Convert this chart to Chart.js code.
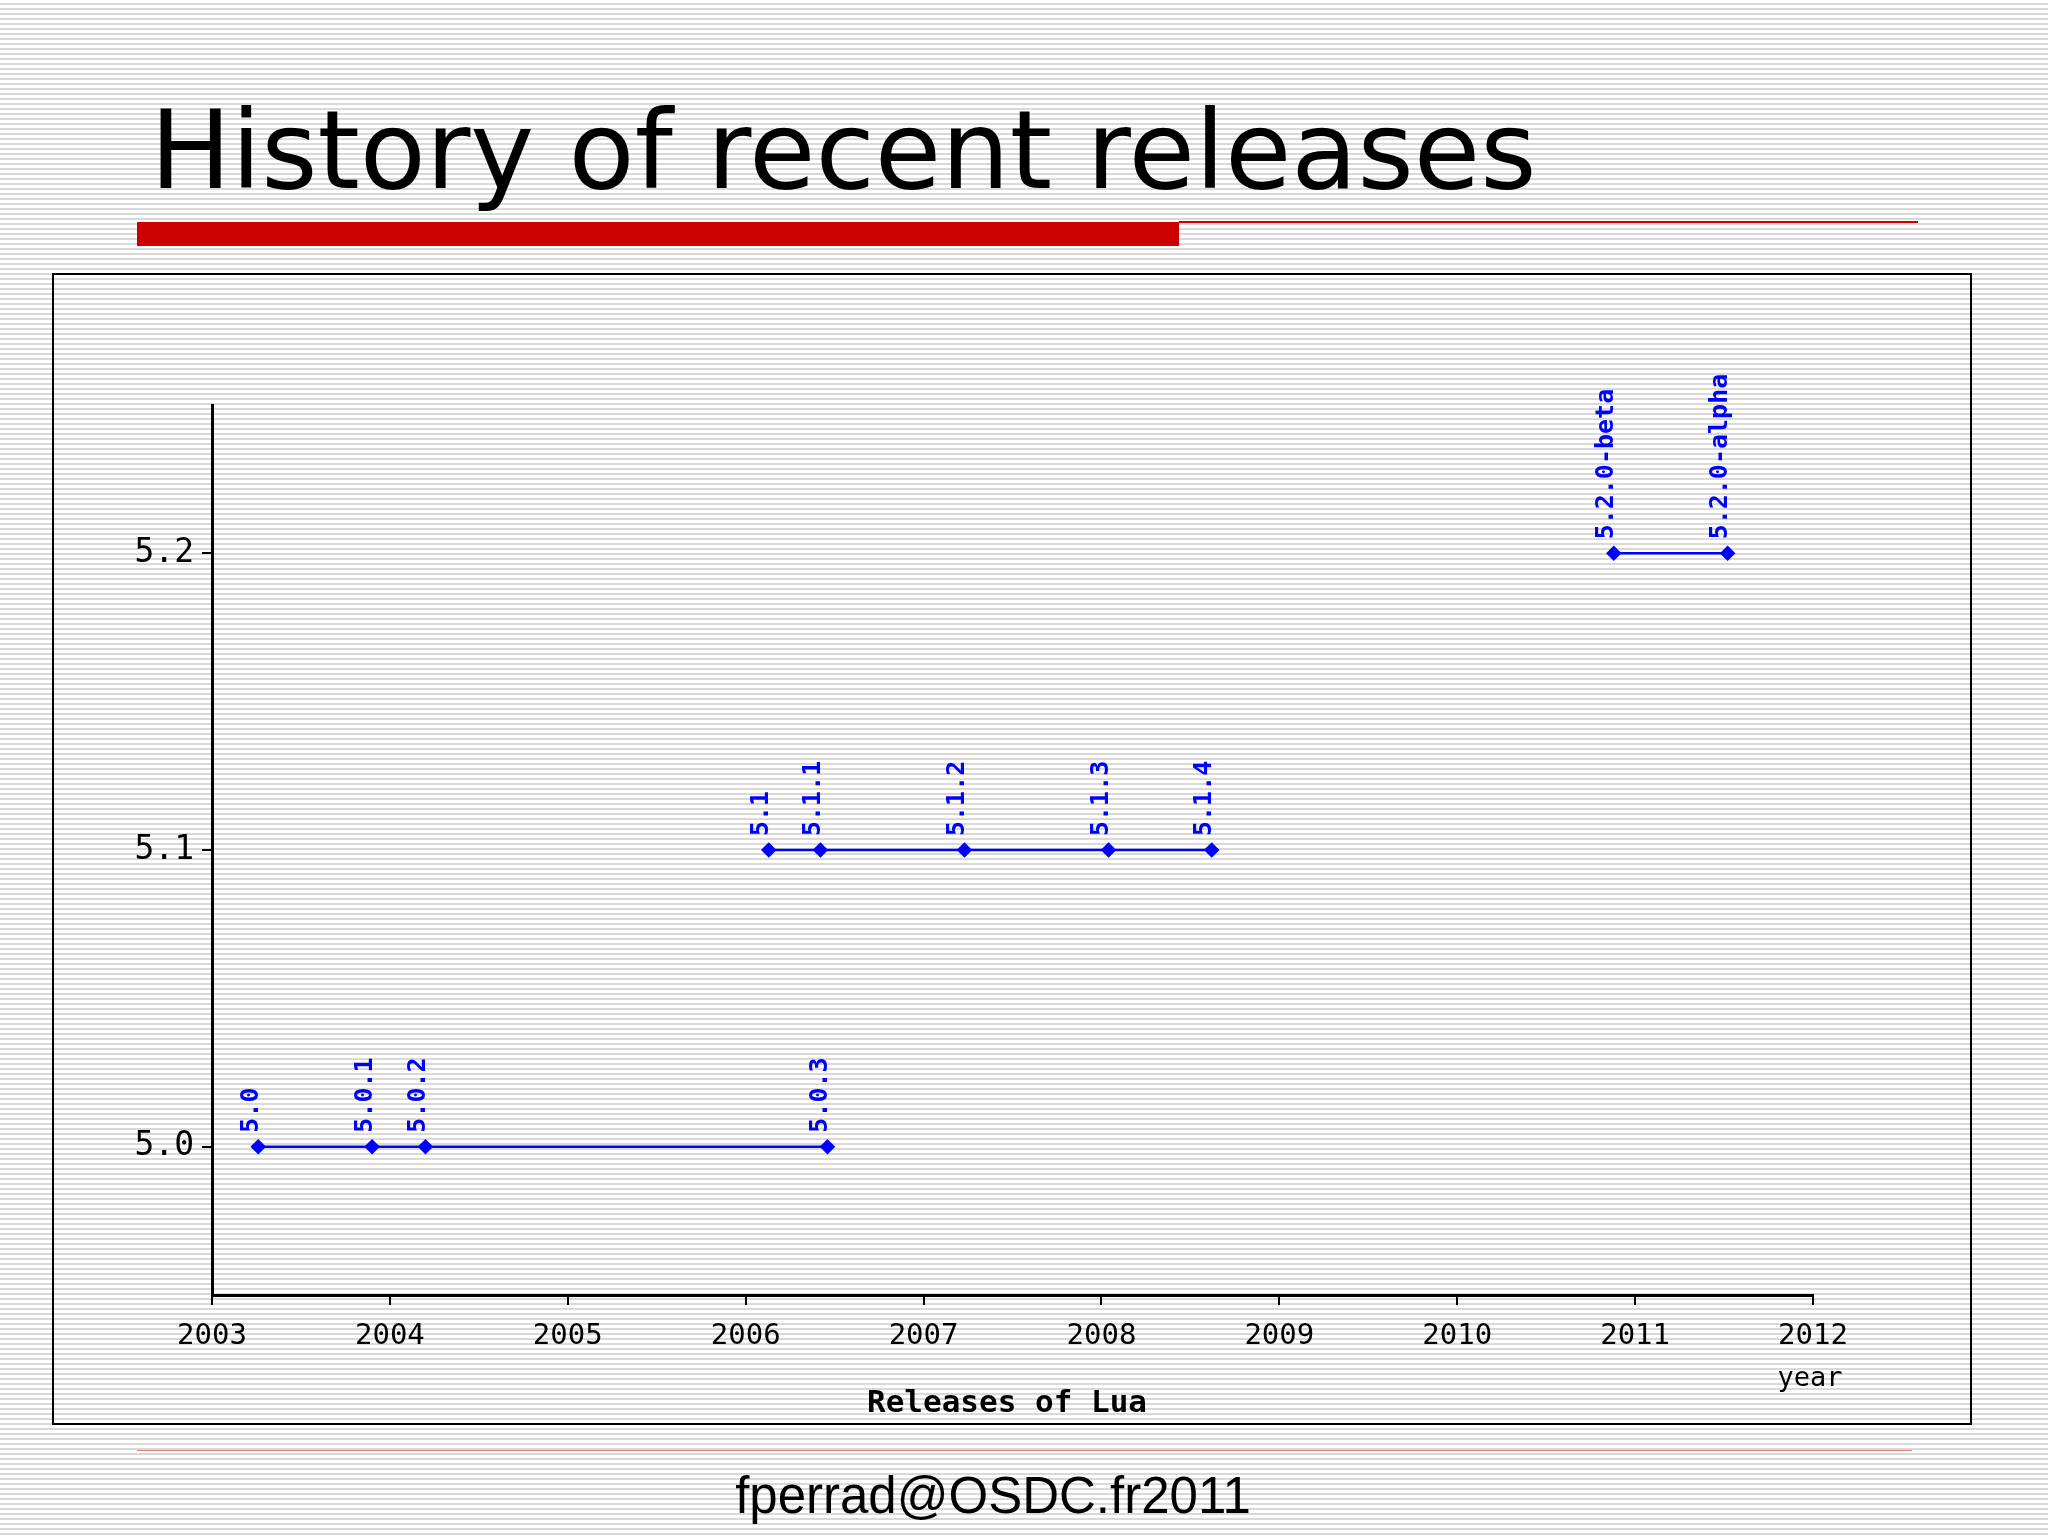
<!DOCTYPE html>
<html>
<head>
<meta charset="utf-8">
<script src="https://cdn.jsdelivr.net/npm/chart.js@4"></script>
<style>
  body {
    margin: 0; width: 2048px; height: 1536px; position: relative; overflow: hidden;
    background: repeating-linear-gradient(to bottom, #ffffff 0px, #ffffff 3px, #d9d9d9 3px, #d9d9d9 5px);
    font-family: "DejaVu Sans", sans-serif;
  }
  #title { position: absolute; left: 150px; top: 88px; font-size: 108px; color: #000; }
  #barThick { position: absolute; left: 137px; top: 222px; width: 1042px; height: 24px; background: #cc0000; }
  #barThin { position: absolute; left: 1179px; top: 221px; width: 739px; height: 2px; background: #cc0000; }
  #frame { position: absolute; left: 52px; top: 273px; width: 1916px; height: 1148px; border: 2px solid #000; }
  #chartBox { position: absolute; left: 52px; top: 274px; width: 1918px; height: 1149px; }
  #footLine { position: absolute; left: 137px; top: 1450px; width: 1775px; height: 1px; background: #e08080; }
  #footer { position: absolute; left: 0; width: 1986px; top: 1466px; text-align: center;
            font-family: "Liberation Sans", sans-serif; font-size: 51px; color: #000; }
</style>
</head>
<body>
<div id="title">History of recent releases</div>
<div id="barThick"></div>
<div id="barThin"></div>
<div id="frame"></div>
<div id="chartBox"><canvas id="chart"></canvas></div>
<div id="footLine"></div>
<div id="footer">fperrad@OSDC.fr2011</div>

<script>
// release dates (fractional years) and labels per branch
const lua50Labels = ["5.0", "5.0.1", "5.0.2", "5.0.3"];
const lua50Years = [2003.26, 2003.90, 2004.20, 2006.46];
const lua51Labels = ["5.1", "5.1.1", "5.1.2", "5.1.3", "5.1.4"];
const lua51Years = [2006.13, 2006.42, 2007.23, 2008.04, 2008.62];
const lua52Labels = ["5.2.0-beta", "5.2.0-alpha"];
const lua52Years = [2010.88, 2011.52];
const yTicks = [5.0, 5.1, 5.2];

const mono = '"DejaVu Sans Mono", monospace';

function series(years, ver, labels) {
    return {
        data: years.map((x, i) => ({ x: x, y: ver, name: labels[i] })),
        borderColor: "#0000ff",
        backgroundColor: "#0000ff",
        borderWidth: 2.5,
        pointStyle: "rectRot",
        pointRadius: 6,
        showLine: true
    };
}

// version names, written upward above each point
const releaseLabels = {
    id: "releaseLabels",
    afterDatasetsDraw(chart) {
        const ctx = chart.ctx;
        ctx.save();
        ctx.fillStyle = "#0000ff";
        ctx.font = "bold 25px " + mono;
        ctx.textAlign = "left";
        ctx.textBaseline = "middle";
        chart.data.datasets.forEach((ds, di) => {
            chart.getDatasetMeta(di).data.forEach((pt, i) => {
                ctx.save();
                ctx.translate(pt.x - 7, pt.y - 14);
                ctx.rotate(-Math.PI / 2);
                ctx.fillText(ds.data[i].name, 0, 0);
                ctx.restore();
            });
        });
        ctx.restore();
    }
};

// axis captions
const captions = {
    id: "captions",
    afterDraw(chart) {
        const ctx = chart.ctx;
        const a = chart.chartArea;
        ctx.save();
        ctx.fillStyle = "#000";
        ctx.textAlign = "center";
        ctx.textBaseline = "middle";
        ctx.font = "27px " + mono;
        ctx.fillText("year", a.right - 3, a.bottom + 84);
        ctx.font = "bold 31px " + mono;
        ctx.fillText("Releases of Lua", 955, a.bottom + 109);
        ctx.restore();
    }
};

new Chart(document.getElementById("chart"), {
    type: "scatter",
    data: {
        datasets: [
            series(lua50Years, 5.0, lua50Labels),
            series(lua51Years, 5.1, lua51Labels),
            series(lua52Years, 5.2, lua52Labels)
        ]
    },
    options: {
        responsive: true,
        maintainAspectRatio: false,
        animation: false,
        layout: { padding: { top: 131, right: 157, left: 0, bottom: 0 } },
        plugins: { legend: { display: false }, tooltip: { enabled: false } },
        scales: {
            x: {
                type: "linear", min: 2003, max: 2012,
                afterBuildTicks: s => { s.ticks = []; for (let y = 2003; y <= 2012; y++) s.ticks.push({ value: y }); },
                afterFit: s => { s.height = 128; },
                grid: { drawOnChartArea: false, color: "#000", tickLength: 10, lineWidth: 2 },
                border: { color: "#000", width: 3 },
                ticks: { color: "#000", font: { family: mono, size: 29 }, padding: 14, maxRotation: 0,
                         callback: v => String(v) }
            },
            y: {
                min: 4.95, max: 5.25,
                afterBuildTicks: s => { s.ticks = yTicks.map(v => ({ value: v })); },
                afterFit: s => { s.width = 160; },
                grid: { drawOnChartArea: false, color: "#000", tickLength: 10, lineWidth: 2 },
                border: { color: "#000", width: 3 },
                ticks: { color: "#000", font: { family: mono, size: 33 }, padding: 8, callback: v => v.toFixed(1) }
            }
        }
    },
    plugins: [releaseLabels, captions]
});
</script>
</body>
</html>
